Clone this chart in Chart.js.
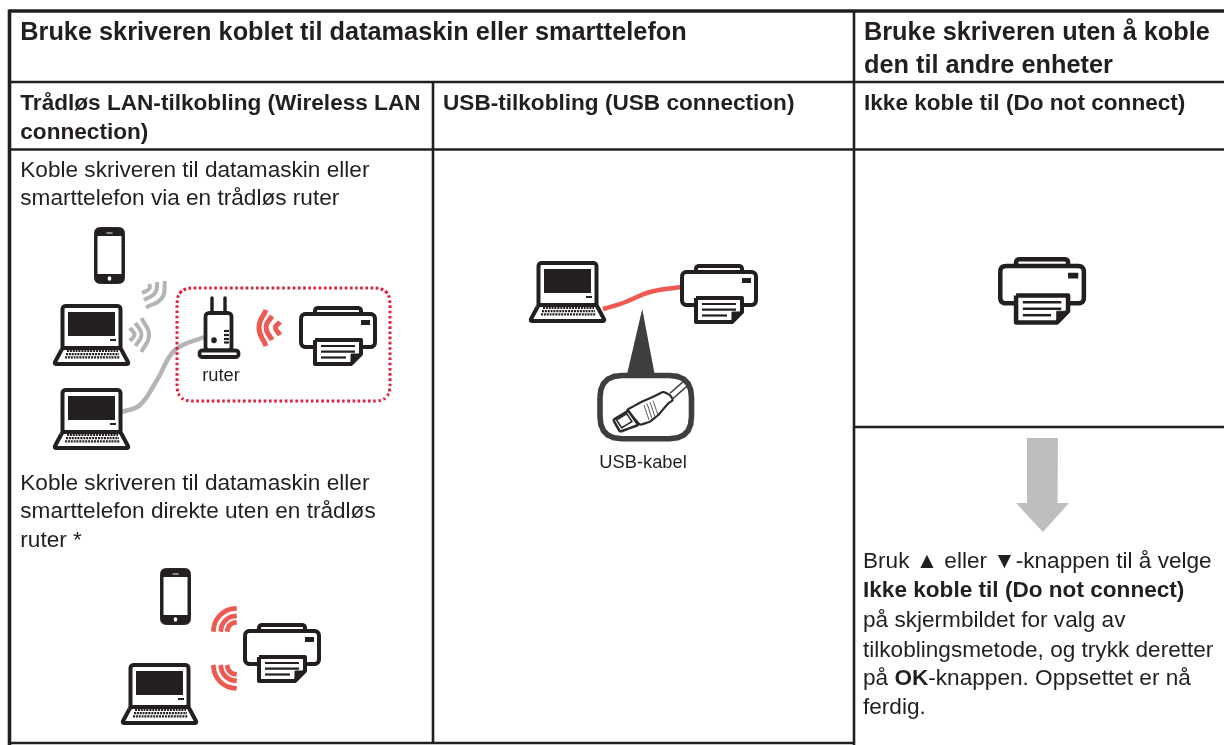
<!DOCTYPE html>
<html>
<head>
<meta charset="utf-8">
<title>Bruke skriveren</title>
<script src="https://cdn.jsdelivr.net/npm/chart.js@4"></script>
<style>
  html, body { margin: 0; padding: 0; background: #fff; overflow: hidden; }
  canvas { display: block; }
</style>
</head>
<body>
<canvas id="sheet" width="1224" height="745"></canvas>
<script>
// Table rules, in sheet units (same as the axis ranges below)
const outerRules = [
    [[9.5, 11], [1224, 11]],
    [[9.5, 9.5], [9.5, 745]]
];
const innerRules = [
    [[9, 82], [1224, 82]],
    [[9, 149.5], [1224, 149.5]],
    [[854, 427], [1224, 427]],
    [[9, 743], [855, 743]],
    [[433, 82], [433, 743]],
    [[854, 10], [854, 745]]
];

// Text: [text, x, baseline]
const titleLines = [
    ['Bruke skriveren koblet til datamaskin eller smarttelefon', 20.3, 40],
    ['Bruke skriveren uten å koble', 864, 40],
    ['den til andre enheter', 864, 72.5]
];
const headLines = [
    ['Trådløs LAN-tilkobling (Wireless LAN', 20.3, 110],
    ['connection)', 20.3, 139],
    ['USB-tilkobling (USB connection)', 443, 110],
    ['Ikke koble til (Do not connect)', 864, 110]
];
const bodyLines = [
    ['Koble skriveren til datamaskin eller', 20.3, 177],
    ['smarttelefon via en trådløs ruter', 20.3, 205],
    ['Koble skriveren til datamaskin eller', 20.3, 489.5],
    ['smarttelefon direkte uten en trådløs', 20.3, 518],
    ['ruter *', 20.3, 546.5]
];
const smallLabels = [
    ['ruter', 221, 380.5],
    ['USB-kabel', 643, 468]
];
// Mixed runs: [[text, bold], ...], x, baseline
const noteLines = [
    [[['Bruk ▲ eller ▼-knappen til å velge', false]], 863, 568],
    [[['Ikke koble til (Do not connect)', true]], 863, 597],
    [[['på skjermbildet for valg av', false]], 863, 627],
    [[['tilkoblingsmetode, og trykk deretter', false]], 863, 657],
    [[['på ', false], ['OK', true], ['-knappen. Oppsettet er nå', false]], 863, 685],
    [[['ferdig.', false]], 863, 714]
];

// Icon outlines in their own units, origin at the icon's top left
const printerBody = [[2, 8], [76, 8], [76, 41], [2, 41], [2, 8]];
const printerTray = [[16, 8], [16, 2], [62, 2], [62, 8]];
const printerPaper = [[16, 34], [62, 34], [62, 48], [52, 58], [16, 58], [16, 34]];
const printerFold = [[62, 48], [52, 48], [52, 58]];
const printerRows = [
    [[22, 40], [56, 40]],
    [[22, 45.7], [56, 45.7]],
    [[22, 51.5], [47, 51.5]]
];
const printerLamp = [[62, 14], [71, 14], [71, 19], [62, 19]];
const printerSpots = [[299, 306, 1], [680, 264, 1], [243, 623, 1], [998, 257, 1.13]];

const laptopLid = [[10.5, 44], [10.5, 2], [68.5, 2], [68.5, 44]];
const laptopBase = [[10.5, 44], [68.5, 44], [77, 60], [2, 60], [10.5, 44]];
const laptopScreen = [[16, 8], [63, 8], [63, 32], [16, 32]];
const laptopLamp = [[58, 35], [64, 35], [64, 37], [58, 37]];
const laptopKeys = [
    [[15, 47], [66, 47]],
    [[14, 50.2], [67, 50.2]],
    [[13, 53.4], [68, 53.4]]
];
const laptopSpots = [[52, 304], [52, 388], [528, 261], [120, 663]];

const phoneShell = [[0.5, 0.5], [30.5, 0.5], [30.5, 56.5], [0.5, 56.5], [0.5, 0.5]];
const phoneGlass = [[3.5, 9], [27.5, 9], [27.5, 47], [3.5, 47]];
const phoneSpeaker = [[12.5, 6], [18.5, 6]];
const phoneButton = [[15.5, 51], [15.5, 52]];
const phoneSpots = [[94, 227], [160, 568]];

const routerBase = [[199.5, 350.5], [238.5, 350.5], [238.5, 357], [199.5, 357], [199.5, 350.5]];
const routerBody = [[205.5, 313], [231.5, 313], [231.5, 350.5], [205.5, 350.5], [205.5, 313]];
const routerAerials = [[[212, 298], [212, 313]], [[225, 298], [225, 313]]];
const routerDot = [[214, 340], [214, 340.5]];
const routerBars = [
    [[224, 331], [229, 331]],
    [[224, 335], [229, 335]],
    [[224, 339], [229, 339]],
    [[224, 342.5], [229, 342.5]]
];

const greyWaves = [
    [[130, 328], [134.5, 334.5], [130, 341]],
    [[135.5, 323], [141.5, 334.5], [135.5, 346]],
    [[141.5, 318], [149, 335], [141.5, 352]],
    [[150, 284], [149, 289], [142, 293]],
    [[157.5, 282], [155, 293], [144, 300]],
    [[165, 281], [162, 298], [146, 307.5]]
];
const redWaves = [
    [[266, 310], [259, 327.5], [266, 346]],
    [[272, 316], [266, 327.5], [272, 340]],
    [[280, 322], [275.5, 327.5], [280, 335]]
];
const directWaves = [
    [[213.2, 631.7], [215, 622.7], [220.1, 615.1], [227.7, 610], [236.7, 608.2]],
    [[220.7, 631.7], [221.9, 625.6], [225.4, 620.4], [230.6, 616.9], [236.7, 615.7]],
    [[227.2, 631.7], [227.9, 628.1], [230, 625], [233.1, 622.9], [236.7, 622.2]],
    [[213.2, 665], [215, 674], [220.1, 681.6], [227.7, 686.7], [236.7, 688.5]],
    [[220.7, 665], [221.9, 671.1], [225.4, 676.3], [230.6, 679.8], [236.7, 681]],
    [[227.2, 665], [227.9, 668.6], [230, 671.7], [233.1, 673.8], [236.7, 674.5]]
];
const greyCable = [[122, 412], [140, 405], [157, 380], [175, 350], [204, 337]];
const redCable = [[603, 309], [623, 303], [650, 292], [681, 287]];

const dottedBox = [[177, 288], [390, 288], [390, 401], [177, 401], [177, 288]];

const pointerWedge = [[642.3, 309], [655, 375], [627, 375], [642.3, 309]];
const plugFrame = [[600, 375.5], [691.5, 375.5], [691.5, 438.7], [600, 438.7], [600, 375.5]];
const plugLeads = [[[670, 393.3], [685, 380]], [[673.3, 398.3], [688.3, 385]]];
const plugHead = [[613.3, 420], [628.3, 410.7], [638.3, 425], [620, 431.7], [613.3, 420]];
const plugBody = [[626.7, 410], [641.7, 401.7], [653.3, 396.7], [663.3, 391.7], [670, 395], [673.3, 400], [668.3, 403.3], [658.3, 415], [650, 421.7], [640, 425], [626.7, 410]];
const plugInner = [[616.5, 420], [626.7, 413.8], [632, 421.5], [621.7, 427.8], [616.5, 420]];
const plugRibs = [
    [[644, 405], [649, 420]],
    [[647, 403.5], [652, 418.5]],
    [[650, 402], [655, 417]],
    [[653, 400.5], [658, 415]]
];

const downArrow = [[1027, 438], [1058, 438], [1058, 503], [1069, 503], [1043, 532], [1016, 503], [1027, 503], [1027, 438]];

const INK = '#231f20';
const GREY = '#b2b4b7';
const RED = '#ee5a52';
const TEXT = '#231f20';
const PLUG = '#3e3e40';

const shapes = [];

function add(points, opts) {
    shapes.push(Object.assign({
        data: points.map(p => ({ x: p[0], y: p[1] })),
        showLine: true,
        pointRadius: 0,
        borderColor: INK,
        borderWidth: 4,
        borderCapStyle: 'butt',
        borderJoinStyle: 'round',
        // a tiny tension keeps Chart.js off its fast path, which merges points per pixel column
        tension: 0.0001,
        fill: false,
        clip: false
    }, opts));
}

function place(points, spot) {
    const s = spot[2] || 1;
    return points.map(p => [spot[0] + p[0] * s, spot[1] + p[1] * s]);
}

// round the corners of an outline, r in sheet units
function soften(points, r) {
    const last = points[points.length - 1];
    const closed = points[0][0] === last[0] && points[0][1] === last[1];
    const pts = closed ? points.slice(0, -1) : points;
    const out = [];
    pts.forEach((cur, i) => {
        if (!closed && (i === 0 || i === pts.length - 1)) {
            out.push(cur);
            return;
        }
        const prev = pts[(i - 1 + pts.length) % pts.length];
        const next = pts[(i + 1) % pts.length];
        const toward = (p) => {
            const d = Math.hypot(p[0] - cur[0], p[1] - cur[1]);
            const k = Math.min(r, d / 2) / d;
            return [cur[0] + (p[0] - cur[0]) * k, cur[1] + (p[1] - cur[1]) * k];
        };
        const a = toward(prev);
        const b = toward(next);
        [0, 0.2, 0.4, 0.6, 0.8, 1].forEach(t => {
            const u = 1 - t;
            out.push([
                u * u * a[0] + 2 * u * t * cur[0] + t * t * b[0],
                u * u * a[1] + 2 * u * t * cur[1] + t * t * b[1]
            ]);
        });
    });
    if (closed) out.push(out[0]);
    return out;
}

// table
outerRules.forEach(r => add(r, { borderWidth: 3.6 }));
innerRules.forEach(r => add(r, { borderWidth: 2.6 }));

// cables and waves go under the icons
add(greyCable, { borderColor: GREY, borderWidth: 4.5, tension: 0.4 });
add(redCable, { borderColor: RED, borderWidth: 4.5, tension: 0.4 });
greyWaves.forEach(w => add(w, { borderColor: GREY, borderWidth: 4, tension: 0.5 }));
redWaves.forEach(w => add(w, { borderColor: RED, borderWidth: 5, tension: 0.5 }));
directWaves.forEach(w => add(w, { borderColor: RED, borderWidth: 4.8, tension: 0.3 }));
add(soften(dottedBox, 15), { borderColor: '#e01f3d', borderWidth: 3, borderDash: [2.6, 2.6] });

printerSpots.forEach(spot => {
    const s = spot[2] || 1;
    const w = 4 * s;
    add(soften(place(printerTray, spot), 3 * s), { borderWidth: w, backgroundColor: '#fff', fill: 'shape' });
    add(soften(place(printerBody, spot), 5 * s), { borderWidth: w, backgroundColor: '#fff', fill: 'shape' });
    add(place(printerLamp, spot), { borderWidth: 0, backgroundColor: INK, fill: 'shape' });
    add(place(printerPaper, spot), { borderWidth: w, backgroundColor: '#fff', fill: 'shape' });
    add(place(printerFold, spot), { borderWidth: 1, backgroundColor: INK, fill: 'shape' });
    printerRows.forEach(r => add(place(r, spot), { borderWidth: 2.2 * s }));
});

laptopSpots.forEach(spot => {
    add(soften(place(laptopLid, spot), 3.5), { borderWidth: 4, backgroundColor: '#fff', fill: 'shape' });
    add(soften(place(laptopBase, spot), 2.5), { borderWidth: 4, backgroundColor: '#fff', fill: 'shape' });
    add(place(laptopScreen, spot), { borderWidth: 0, backgroundColor: INK, fill: 'shape' });
    add(place(laptopLamp, spot), { borderWidth: 0, backgroundColor: INK, fill: 'shape' });
    laptopKeys.forEach(k => add(place(k, spot), { borderWidth: 2.2, borderDash: [2, 0.9] }));
});

phoneSpots.forEach(spot => {
    add(soften(place(phoneShell, spot), 6), { borderWidth: 1, backgroundColor: INK, fill: 'shape' });
    add(place(phoneGlass, spot), { borderWidth: 0, backgroundColor: '#fff', fill: 'shape' });
    add(place(phoneSpeaker, spot), { borderColor: '#fff', borderWidth: 1 });
    add(place(phoneButton, spot), { borderColor: '#fff', borderWidth: 3.5, borderCapStyle: 'round' });
});

// router
add(soften(routerBody, 4), { borderWidth: 3.8, backgroundColor: '#fff', fill: 'shape' });
add(soften(routerBase, 3), { borderWidth: 3.8, backgroundColor: '#fff', fill: 'shape' });
routerAerials.forEach(a => add(a, { borderWidth: 3.4, borderCapStyle: 'round' }));
add(routerDot, { borderWidth: 5.5, borderCapStyle: 'round' });
routerBars.forEach(b => add(b, { borderWidth: 2.2 }));

// usb plug callout
add(pointerWedge, { borderColor: PLUG, borderWidth: 0, backgroundColor: PLUG, fill: 'shape' });
add(soften(plugFrame, 22), { borderColor: PLUG, borderWidth: 5.6, backgroundColor: '#fff', fill: 'shape' });
plugLeads.forEach(l => add(l, { borderColor: PLUG, borderWidth: 1.5 }));
add(soften(plugBody, 2), { borderColor: '#2b2b2d', borderWidth: 2.2, backgroundColor: '#fff', fill: 'shape' });
add(soften(plugHead, 1.5), { borderColor: '#2b2b2d', borderWidth: 2.6, backgroundColor: '#fff', fill: 'shape' });
add(plugInner, { borderColor: '#2b2b2d', borderWidth: 1.6 });
plugRibs.forEach(r => add(r, { borderColor: '#55555a', borderWidth: 1 }));

add(downArrow, { borderWidth: 0, backgroundColor: '#bcbec0', fill: 'shape' });

// Chart.js paints the first dataset on top, so flip the list
shapes.reverse();

const FACE = '"Liberation Sans", Arial, sans-serif';

const sheetText = {
    id: 'sheetText',
    afterDraw(chart) {
        const { ctx, scales } = chart;
        const X = v => scales.x.getPixelForValue(v);
        const Y = v => scales.y.getPixelForValue(v);
        ctx.save();
        ctx.fillStyle = TEXT;
        ctx.textBaseline = 'alphabetic';
        ctx.textAlign = 'left';

        ctx.font = 'bold 25.3px ' + FACE;
        titleLines.forEach(l => ctx.fillText(l[0], X(l[1]), Y(l[2])));

        ctx.font = 'bold 22.6px ' + FACE;
        headLines.forEach(l => ctx.fillText(l[0], X(l[1]), Y(l[2])));

        ctx.font = '22.6px ' + FACE;
        bodyLines.forEach(l => ctx.fillText(l[0], X(l[1]), Y(l[2])));

        ctx.textAlign = 'center';
        ctx.font = '18.3px ' + FACE;
        smallLabels.forEach(l => ctx.fillText(l[0], X(l[1]), Y(l[2])));

        ctx.textAlign = 'left';
        noteLines.forEach(line => {
            let x = X(line[1]);
            line[0].forEach(run => {
                ctx.font = (run[1] ? 'bold ' : '') + '22.6px ' + FACE;
                ctx.fillText(run[0], x, Y(line[2]));
                x += ctx.measureText(run[0]).width;
            });
        });
        ctx.restore();
    }
};

new Chart(document.getElementById('sheet').getContext('2d'), {
    type: 'scatter',
    data: { datasets: shapes },
    options: {
        responsive: false,
        animation: false,
        layout: { padding: 0 },
        plugins: { legend: { display: false }, tooltip: { enabled: false }, title: { display: false } },
        scales: {
            x: { type: 'linear', min: 0, max: 1224, display: false },
            y: { type: 'linear', min: 0, max: 745, reverse: true, display: false }
        }
    },
    plugins: [sheetText]
});
</script>
</body>
</html>
